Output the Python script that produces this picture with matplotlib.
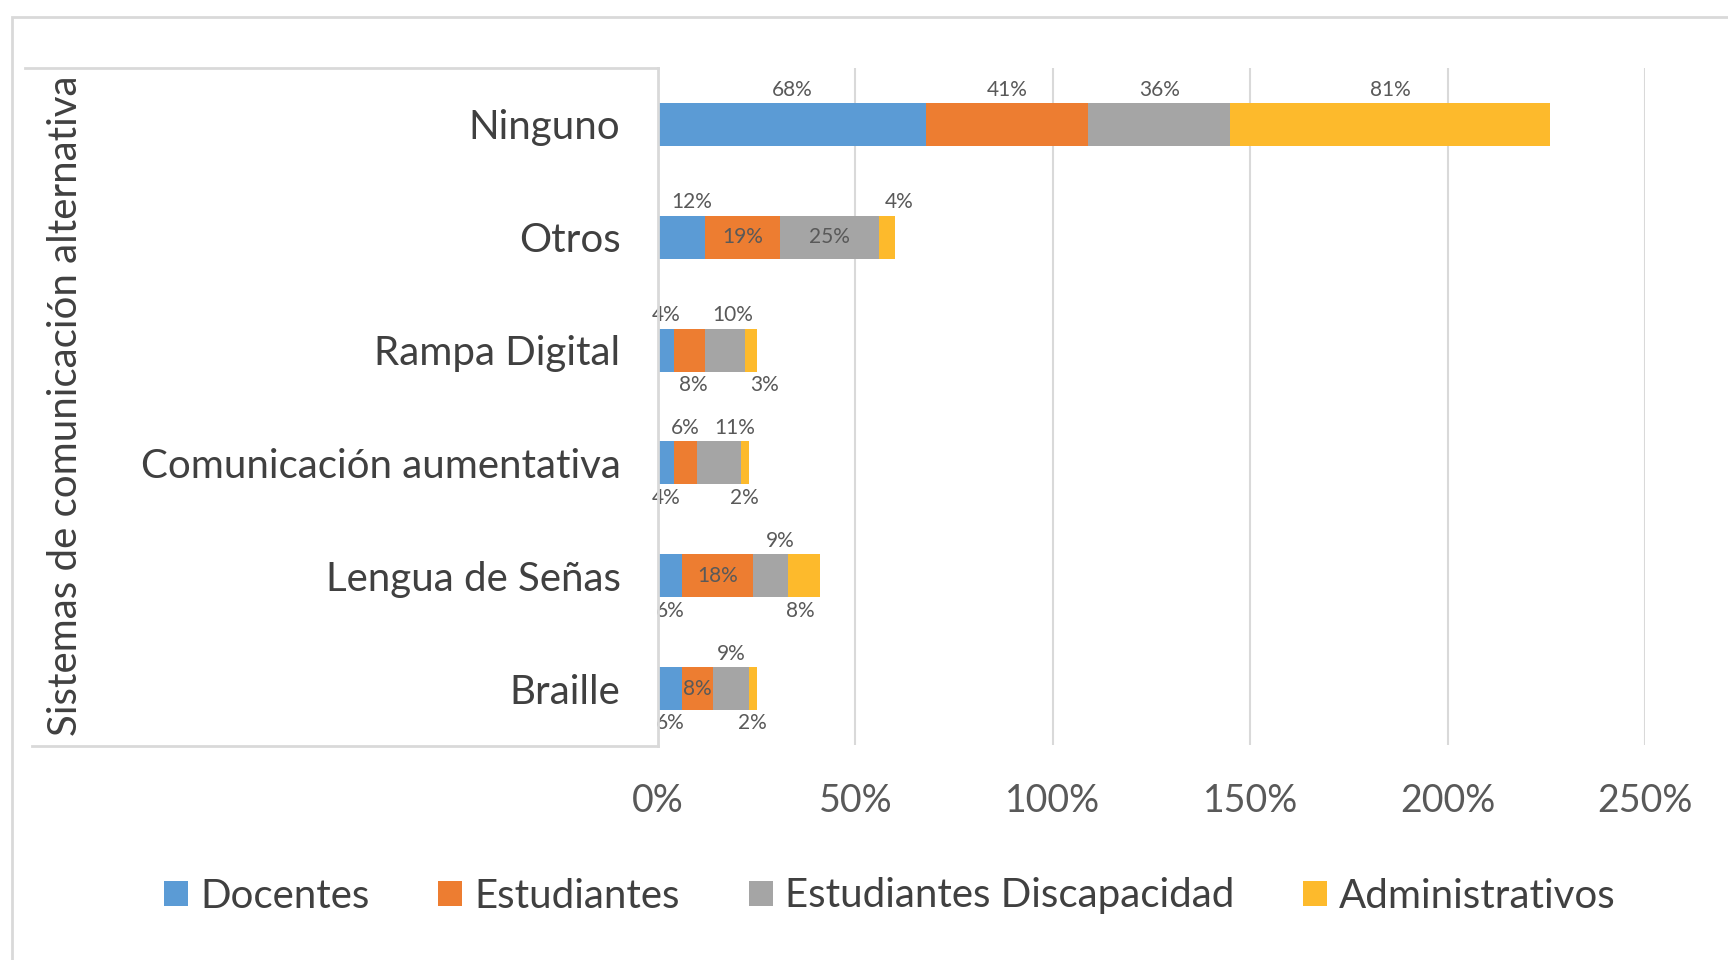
import numpy as np
import matplotlib
matplotlib.use("Agg")
import matplotlib.pyplot as plt
from matplotlib.patches import Rectangle
from matplotlib.lines import Line2D

# data (percent)
categories = ["Ninguno", "Otros", "Rampa Digital", "Comunicación aumentativa",
              "Lengua de Señas", "Braille"]
series = ["Docentes", "Estudiantes", "Estudiantes Discapacidad", "Administrativos"]
docentes = [68, 12, 4, 4, 6, 6]
estudiantes = [41, 19, 8, 6, 18, 8]
est_discapacidad = [36, 25, 10, 11, 9, 9]
administrativos = [81, 4, 3, 2, 8, 2]

# where each data label sits: a = above, i = inside, b = below
label_pos = [
    ["a", "a", "a", "a"],
    ["a", "i", "i", "a"],
    ["a", "b", "a", "b"],
    ["b", "a", "a", "b"],
    ["b", "i", "a", "b"],
    ["b", "i", "a", "b"],
]
# small horizontal nudges of the labels (in axis units)
label_dx = [
    [0, 0, 0, 0],
    [2.5, 0, 0, 3],
    [0, 1, 2, 3.5],
    [0, 0, 4, 0],
    [0, 0, 2.5, -1],
    [0, 0, 0, 0],
]

colors = ["#5B9BD5", "#ED7D31", "#A5A5A5", "#FDBA2C"]
values = [docentes, estudiantes, est_discapacidad, administrativos]

plt.rcParams['font.family'] = ['Lato', 'DejaVu Sans']

fig = plt.figure(figsize=(17.28, 9.6), dpi=100)
ax = fig.add_axes([658 / 1728, 1 - 745 / 960, 987 / 1728, 677 / 960])

y = np.arange(len(categories))
left = np.zeros(len(categories))
bar_h = 0.38
for s, (name, vals, col) in enumerate(zip(series, values, colors)):
    vals = np.array(vals, dtype=float)
    ax.barh(y, vals, left=left, height=bar_h, color=col, label=name, zorder=3)
    for i, v in enumerate(vals):
        cx = left[i] + v / 2 + label_dx[i][s]
        pos = label_pos[i][s]
        if pos == "a":
            ty, va = y[i] - bar_h / 2 - 0.03, "bottom"
        elif pos == "b":
            ty, va = y[i] + bar_h / 2 + 0.03, "top"
        else:
            ty, va = y[i], "center"
        ax.text(cx, ty, f"{int(v)}%", ha="center", va=va, fontsize=15,
                color="#595959", zorder=4)
    left += vals

ax.set_xlim(0, 250)
ax.set_ylim(len(categories) - 0.5, -0.5)
ax.set_xticks(np.arange(0, 251, 50))
ax.set_xticklabels([f"{t}%" for t in range(0, 251, 50)])
ax.set_yticks(y)
ax.set_yticklabels(categories)
ax.tick_params(axis="x", length=0, pad=27, labelsize=27, labelcolor="#595959")
ax.tick_params(axis="y", length=0, pad=27, labelsize=29, labelcolor="#404040")
ax.grid(axis="x", color="#D9D9D9", linewidth=1.5, zorder=0)
for sp in ax.spines.values():
    sp.set_visible(False)

# frame around the category labels (top, right, bottom)
x0 = 658 / 1728
ytop, ybot = 1 - 68 / 960, 1 - 746 / 960
for xs, ys in [([25 / 1728, x0], [ytop, ytop]),
               ([32 / 1728, x0], [ybot, ybot]),
               ([x0, x0], [ytop, ybot])]:
    fig.add_artist(Line2D(xs, ys, transform=fig.transFigure,
                          color="#D9D9D9", linewidth=2))
# outer chart border
fig.patches.append(Rectangle((12 / 1728, -0.1), 1.2, 1.1 - 17 / 960,
                             transform=fig.transFigure, fill=False,
                             edgecolor="#D9D9D9", linewidth=2))

fig.text(66 / 1728, 1 - 406 / 960, "Sistemas de comunicación alternativa",
         rotation=90, ha="center", va="center", fontsize=29, color="#404040")

fig.legend(loc="center", bbox_to_anchor=(0.515, 1 - 896 / 960), ncol=4,
           frameon=False, fontsize=29, handlelength=0.6, handleheight=0.6,
           handletextpad=0.3, columnspacing=1.7, labelcolor="#404040")

fig.savefig("out.png", dpi=100)
